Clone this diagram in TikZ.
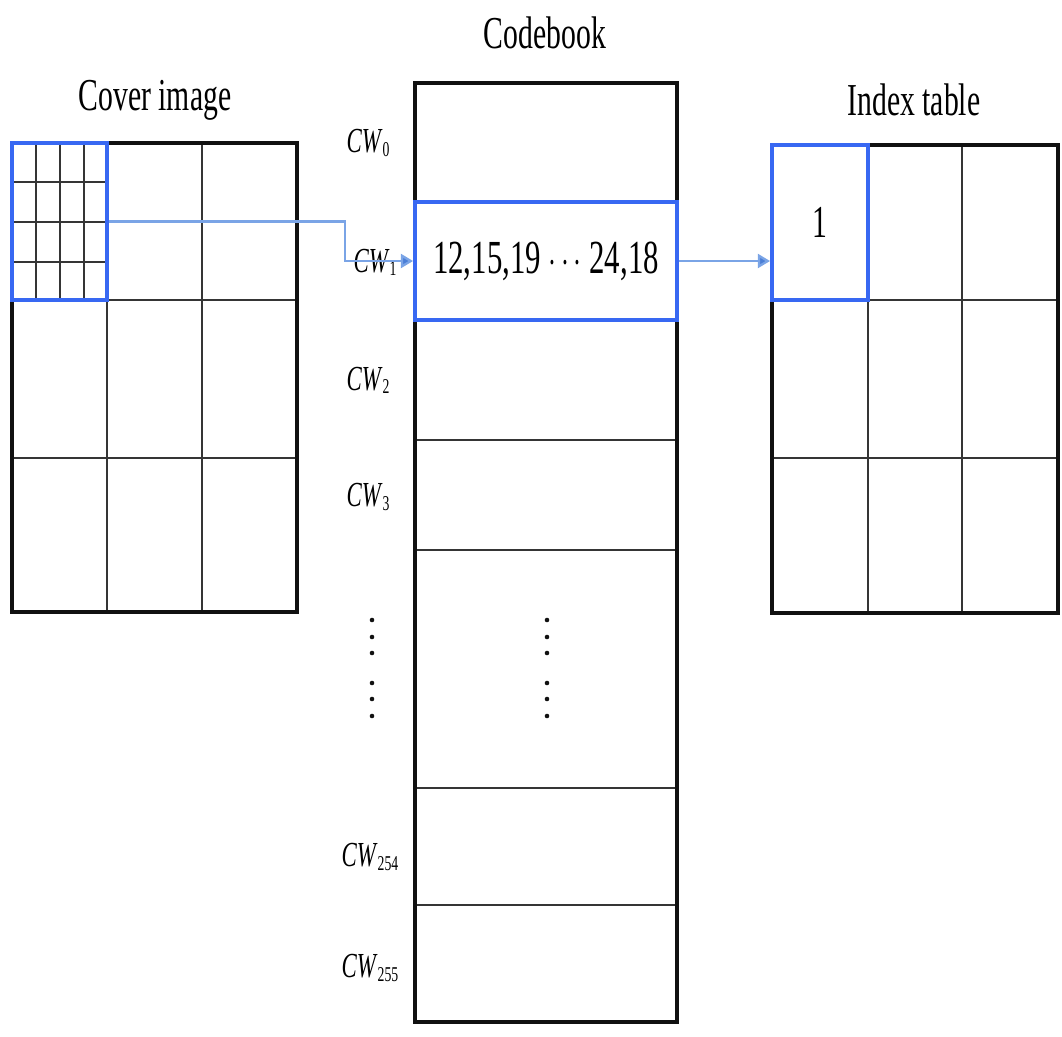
\documentclass[tikz,border=0pt]{standalone}
\usepackage{fontspec}
\setmainfont{Liberation Serif}
\usepackage{graphicx}
\usetikzlibrary{arrows.meta}

% condensed text, as in the printed figure
\newcommand{\narrow}[1]{\scalebox{0.65}[1]{#1}}
\newcommand{\cwlabel}[1]{\narrow{\textit{CW}\raisebox{-0.2ex}{\fontsize{12}{12}\selectfont #1}}}

\begin{document}
\begin{tikzpicture}[x=0.02cm,y=-0.02cm]
    \definecolor{frameColour}{HTML}{111111}
    \definecolor{markColour}{HTML}{3868F2}
    \definecolor{flowColour}{HTML}{7AA4E6}
    \definecolor{tipColour}{HTML}{4A7ED6}
    \tikzset{
        outer/.style={draw=frameColour, line width=2.2pt},
        inner/.style={draw=frameColour!85, line width=1.1pt},
        markbox/.style={draw=markColour, line width=2.2pt, inner sep=0pt},
        flow/.style={draw=flowColour, line width=1.3pt, -{Triangle[length=7pt,width=8pt,fill=tipColour]}},
        title/.style={font=\fontsize{26}{30}\selectfont},
        cw/.style={font=\fontsize{20}{24}\selectfont, anchor=center}
    }
    \useasboundingbox (0,0) rectangle (1062,1036);

    % Titles
    \node[title] (coverTitle) at (155,100) {\narrow{Cover image}};
    \node[title] (bookTitle) at (545,33) {\narrow{Codebook}};
    \node[title] (indexTitle) at (914,100) {\narrow{Index table}};

    % Cover image: 3x3 blocks
    \draw[inner] (107,143) -- (107,612) (202,143) -- (202,612);
    \draw[inner] (12,300) -- (297,300) (12,458) -- (297,458);
    \draw[outer] (12,143) rectangle (297,612);

    % First block split into 4x4 pixels
    \foreach \x in {36,60,84}
        \draw[inner] (\x,143) -- (\x,300);
    \foreach \y in {182,222,262}
        \draw[inner] (12,\y) -- (107,\y);
    \node[markbox, minimum width=1.9cm, minimum height=3.14cm] (block) at (59.5,221.5) {};

    % Codebook
    \foreach \y in {440,550,788,905}
        \draw[inner] (415,\y) -- (677,\y);
    \draw[outer] (415,83) rectangle (677,1022);
    \node[markbox, minimum width=5.24cm, minimum height=2.36cm,
          font=\fontsize{27}{30}\selectfont] (word) at (546,261) {\narrow{12,15,19 $\cdots$ 24,18}};

    % Codeword labels
    \node[cw] (cw0) at (368,143) {\cwlabel{0}};
    \node[cw] (cw1) at (375,262) {\cwlabel{1}};
    \node[cw] (cw2) at (368,380) {\cwlabel{2}};
    \node[cw] (cw3) at (368,497) {\cwlabel{3}};
    \node[cw] (cw254) at (370,857) {\cwlabel{254}};
    \node[cw] (cw255) at (370,968) {\cwlabel{255}};

    % Vertical ellipses
    \foreach \y in {620,637,653,683,699,716} {
        \fill[frameColour] (372,\y) circle[radius=1.3pt];
        \fill[frameColour] (547,\y) circle[radius=1.3pt];
    }

    % Index table
    \draw[inner] (868,145) -- (868,613) (962,145) -- (962,613);
    \draw[inner] (772,300) -- (1058,300) (772,458) -- (1058,458);
    \draw[outer] (772,145) rectangle (1058,613);
    \node[markbox, minimum width=1.92cm, minimum height=3.1cm] (cell) at (820,222.5) {};
    \node[font=\fontsize{26}{30}\selectfont] (idx) at (820,222) {\narrow{1}};

    % Mapping arrows
    \coordinate (bend) at (345,240);
    \draw[flow] (block.east) -| (bend) |- (word.west);
    \draw[flow] (word.east) -- (word.east -| cell.west);
\end{tikzpicture}
\end{document}
